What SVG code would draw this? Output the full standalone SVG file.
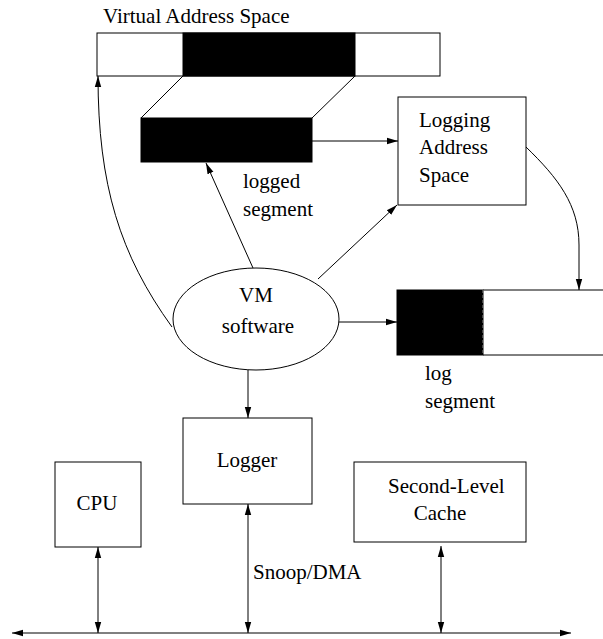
<svg xmlns="http://www.w3.org/2000/svg" width="603" height="639" viewBox="0 0 603 639">
<style>
text{font-family:"Liberation Serif","Times New Roman",serif;font-size:21px;fill:#000}
.box{fill:#fff;stroke:#000;stroke-width:1}
.blk{fill:#000;stroke:#000;stroke-width:1}
.ln{fill:none;stroke:#000;stroke-width:1}
.ar{fill:none;stroke:#000;stroke-width:1;marker-end:url(#ah)}
.ar2{fill:none;stroke:#000;stroke-width:1;marker-end:url(#ah);marker-start:url(#ahs)}
.mid{text-anchor:middle}
</style>
<defs>
<marker id="ah" markerUnits="userSpaceOnUse" markerWidth="12" markerHeight="8" refX="11" refY="4" orient="auto">
<path d="M0,0.8 L11,4 L0,7.2 Z" fill="#000"/>
</marker>
<marker id="ahs" markerUnits="userSpaceOnUse" markerWidth="12" markerHeight="8" refX="0" refY="4" orient="auto">
<path d="M11,0.8 L0,4 L11,7.2 Z" fill="#000"/>
</marker>
</defs>

<g id="virtual-address-space">
<text x="103" y="23">Virtual Address Space</text>
<rect class="box" x="97" y="33" width="343" height="43"/>
<rect class="blk" x="183" y="33" width="172" height="43"/>
</g>

<g id="logged-segment">
<line class="ln" x1="183" y1="76" x2="141" y2="118"/>
<line class="ln" x1="355" y1="76" x2="312" y2="118"/>
<rect class="blk" x="141" y="118" width="171" height="44"/>
<text x="243" y="188">logged</text>
<text x="243" y="216">segment</text>
</g>

<g id="logging-address-space">
<rect class="box" x="398" y="97" width="128" height="108"/>
<text x="419" y="127">Logging</text>
<text x="419" y="154">Address</text>
<text x="419" y="182">Space</text>
</g>

<g id="vm-software">
<ellipse class="box" cx="256" cy="319" rx="83" ry="51"/>
<text class="mid" x="256" y="302">VM</text>
<text class="mid" x="258" y="333">software</text>
</g>

<g id="log-segment">
<rect class="blk" x="397" y="290" width="86" height="65"/>
<line class="ln" x1="483" y1="290" x2="603" y2="290"/>
<line class="ln" x1="483" y1="355" x2="603" y2="355"/>
<line x1="483" y1="290" x2="483" y2="355" stroke="#888" stroke-width="1" stroke-dasharray="3,2"/>
<text x="425" y="380">log</text>
<text x="425" y="408">segment</text>
</g>

<g id="logger">
<rect class="box" x="183" y="418" width="129" height="86"/>
<text class="mid" x="247" y="467">Logger</text>
</g>

<g id="cpu">
<rect class="box" x="55" y="462" width="86" height="85"/>
<text class="mid" x="97" y="510">CPU</text>
</g>

<g id="second-level-cache">
<rect class="box" x="354" y="462" width="172" height="80"/>
<text x="388" y="493">Second-Level</text>
<text class="mid" x="440" y="520">Cache</text>
</g>

<g id="connectors">
<path class="ar" d="M172,327 C120,255 98,185 98,76"/>
<line class="ar" x1="253" y1="268" x2="206" y2="163"/>
<line class="ar" x1="318" y1="279" x2="397" y2="205"/>
<line class="ar" x1="312" y1="141" x2="398" y2="141"/>
<path class="ar" d="M526,147 C558,178 579,205 579,245 L579,290"/>
<line class="ar" x1="339" y1="322" x2="397" y2="322"/>
<line class="ar" x1="248" y1="370" x2="248" y2="418"/>
<line class="ar2" x1="12" y1="633" x2="571" y2="633"/>
<line class="ar2" x1="98" y1="547" x2="98" y2="633"/>
<line class="ar2" x1="248" y1="504" x2="248" y2="633"/>
<line class="ar2" x1="441" y1="546" x2="441" y2="633"/>
<text x="253" y="579">Snoop/DMA</text>
</g>
</svg>
